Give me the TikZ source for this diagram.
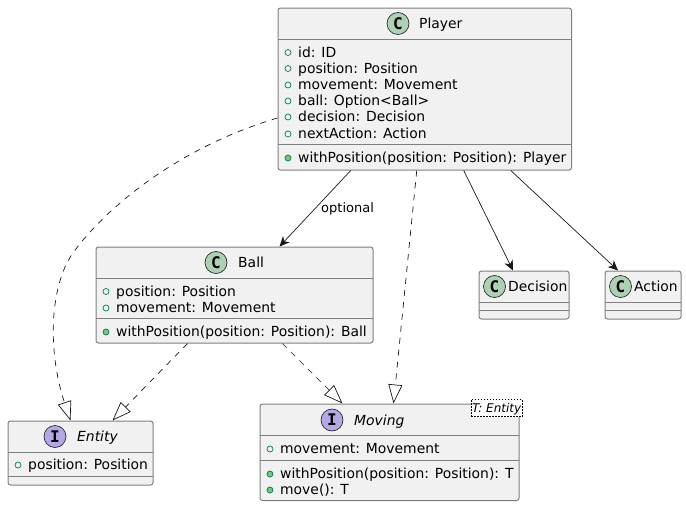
\documentclass[tikz,border=0pt]{standalone}
\usepackage{fontspec}
\setmainfont{DejaVu Sans}
\newfontfamily\glyphfont{DejaVu Sans Mono}
\usetikzlibrary{arrows.meta}
\definecolor{boxfill}{HTML}{F1F1F1}
\definecolor{boxline}{HTML}{181818}
\definecolor{boxedge}{HTML}{7F7F7F}
\definecolor{classcirc}{HTML}{ADD1B2}
\definecolor{ifacecirc}{HTML}{B4A7E5}
\definecolor{visline}{HTML}{038048}
\definecolor{visfill}{HTML}{84BE84}
\tikzset{
  umlbox/.style={draw=boxedge,fill=boxfill,line width=1pt,rounded corners=2.5pt,inner sep=0pt,anchor=north west},
  sepline/.style={draw=boxedge,line width=1pt},
  titletext/.style={anchor=base west,inner sep=0pt,font=\fontsize{13.9}{16}\selectfont},
  itemtext/.style={anchor=base west,inner sep=0pt,font=\fontsize{13.9}{16}\selectfont},
  classbadge/.style={circle,draw=boxline,fill=classcirc,line width=0.6pt,minimum size=22pt,inner sep=0pt,font=\glyphfont\bfseries\fontsize{16}{18}\selectfont},
  ifacebadge/.style={classbadge,fill=ifacecirc},
  fieldicon/.style={circle,draw=visline,fill=boxfill,line width=0.7pt,minimum size=6pt,inner sep=0pt},
  methodicon/.style={circle,draw=visline,fill=visfill,line width=0.7pt,minimum size=6pt,inner sep=0pt},
  assoc/.style={draw=boxline,line width=0.7pt,-{Stealth[length=10pt,width=9pt,inset=3pt]}},
  impl/.style={draw=boxline,line width=0.7pt,dash pattern=on 6pt off 6pt,-{Triangle[open,length=19pt,width=14pt,fill=white]}}
}
\begin{document}
\begin{tikzpicture}[x=1pt,y=-1pt]
    \useasboundingbox (0,0) rectangle (686,506);

    %player
    \node[umlbox,minimum width=293.5pt,minimum height=162pt] (player) at (277.5,7.5) {};
    \draw[sepline] (277.5,39.5) -- (571,39.5);
    \draw[sepline] (277.5,144.5) -- (571,144.5);
    \node[classbadge] (playerc) at (398,23.5) {C};
    \node[titletext] (playert) at (419,28) {Player};
    \node[fieldicon] (pi1) at (288,52.5) {};
    \node[itemtext] (p1) at (298,57) {id: ID};
    \node[fieldicon] (pi2) at (288,68.5) {};
    \node[itemtext] (p2) at (298,73) {position: Position};
    \node[fieldicon] (pi3) at (288,85) {};
    \node[itemtext] (p3) at (298,89.5) {movement: Movement};
    \node[fieldicon] (pi4) at (288,101) {};
    \node[itemtext] (p4) at (298,105.5) {ball: Option<Ball>};
    \node[fieldicon] (pi5) at (288,117) {};
    \node[itemtext] (p5) at (298,121.5) {decision: Decision};
    \node[fieldicon] (pi6) at (288,134) {};
    \node[itemtext] (p6) at (298,138) {nextAction: Action};
    \node[methodicon] (pi7) at (288,158) {};
    \node[itemtext] (p7) at (298,162) {withPosition(position: Position): Player};

    %ball
    \node[umlbox,minimum width=277pt,minimum height=96pt] (ball) at (95.5,246.5) {};
    \draw[sepline] (95.5,278.5) -- (372.5,278.5);
    \draw[sepline] (95.5,318.5) -- (372.5,318.5);
    \node[classbadge] (ballc) at (216,262.5) {C};
    \node[titletext] (ballt) at (238,267) {Ball};
    \node[fieldicon] (bi1) at (106,291.5) {};
    \node[itemtext] (b1) at (116,296) {position: Position};
    \node[fieldicon] (bi2) at (106,308) {};
    \node[itemtext] (b2) at (116,312) {movement: Movement};
    \node[methodicon] (bi3) at (106,332) {};
    \node[itemtext] (b3) at (116,336) {withPosition(position: Position): Ball};

    %decision
    \node[umlbox,minimum width=90pt,minimum height=48pt] (decision) at (478.5,270.5) {};
    \draw[sepline] (478.5,302.5) -- (568.5,302.5);
    \draw[sepline] (478.5,310.5) -- (568.5,310.5);
    \node[classbadge] (decisionc) at (494.5,286.5) {C};
    \node[titletext] (decisiont) at (508,291) {Decision};

    %action
    \node[umlbox,minimum width=76pt,minimum height=48pt] (action) at (604.5,270.5) {};
    \draw[sepline] (604.5,302.5) -- (680.5,302.5);
    \draw[sepline] (604.5,310.5) -- (680.5,310.5);
    \node[classbadge] (actionc) at (620.5,286.5) {C};
    \node[titletext] (actiont) at (634,291) {Action};

    %entity
    \node[umlbox,minimum width=145pt,minimum height=64pt] (entity) at (7.5,420.5) {};
    \draw[sepline] (7.5,452.5) -- (152.5,452.5);
    \draw[sepline] (7.5,476.5) -- (152.5,476.5);
    \node[ifacebadge] (entityc) at (55,436.5) {I};
    \node[titletext,font=\fontsize{13.9}{16}\selectfont\itshape] (entityt) at (77,441) {Entity};
    \node[fieldicon] (ei1) at (18,465) {};
    \node[itemtext] (e1) at (28,469.5) {position: Position};

    %moving
    \node[umlbox,minimum width=259pt,minimum height=96.5pt] (moving) at (259.5,403.5) {};
    \draw[sepline] (259.5,435.5) -- (518.5,435.5);
    \draw[sepline] (259.5,460.5) -- (518.5,460.5);
    \node[ifacebadge] (movingc) at (332,420) {I};
    \node[titletext,font=\fontsize{13.9}{16}\selectfont\itshape] (movingt) at (354,425) {Moving};
    \node[fieldicon] (mi1) at (270,449) {};
    \node[itemtext] (m1) at (280,453.5) {movement: Movement};
    \node[methodicon] (mi2) at (270,474) {};
    \node[itemtext] (m2) at (280,478) {withPosition(position: Position): T};
    \node[methodicon] (mi3) at (270,490) {};
    \node[itemtext] (m3) at (280,494.5) {move(): T};
    \node[draw=black,fill=white,dash pattern=on 1.5pt off 1.5pt,line width=0.6pt,inner sep=1pt,minimum height=17pt,text height=9pt,text depth=1pt,font=\fontsize{12}{14}\selectfont\itshape,anchor=south east] (movingp) at (522.5,417) {T: Entity};

    %connectors
    \node[anchor=base west,inner sep=0pt,font=\fontsize{13}{15}\selectfont] (optlabel) at (321,212) {optional};
    \draw[assoc] ([xshift=-74pt]player.south) to ([xshift=45pt]ball.north);
    \draw[impl] ([xshift=-8pt]player.south) to ([xshift=4pt]moving.north);
    \draw[assoc] ([xshift=39pt]player.south) to ([xshift=-11pt]decision.north);
    \draw[assoc] ([xshift=86pt]player.south) to ([xshift=-25pt]action.north);
    \draw[impl] ([xshift=-47pt]ball.south) to ([xshift=32pt]entity.north);
    \draw[impl] ([xshift=48pt]ball.south) to ([xshift=-47pt]moving.north);
    \draw[impl] ([yshift=-29pt]player.west) .. controls (170,150) and (100,215) .. (73,253) .. controls (50,285) and (47,350) .. ([xshift=-10pt]entity.north);
\end{tikzpicture}
\end{document}
